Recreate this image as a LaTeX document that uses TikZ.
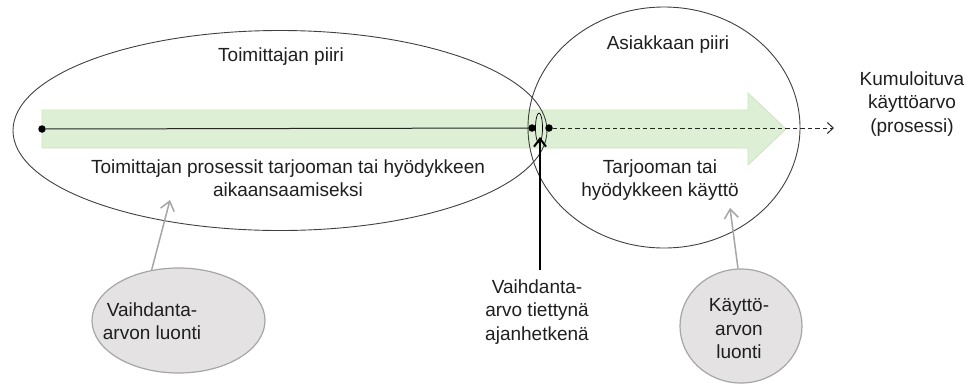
\documentclass[tikz,border=0pt]{standalone}
\usepackage{fontspec}
\setmainfont{Liberation Sans}
\usetikzlibrary{shapes.geometric,arrows.meta,calc}

\definecolor{flowfill}{RGB}{221,239,213}
\definecolor{flowedge}{RGB}{205,229,193}
\definecolor{circleedge}{RGB}{64,64,64}
\definecolor{valuefill}{RGB}{228,226,227}
\definecolor{valueedge}{RGB}{166,166,166}

\tikzset{
  txt/.style={font=\fontsize{19bp}{23.5bp}\selectfont, align=center, inner sep=0pt, text=black!88},
  sphere/.style={ellipse, draw=circleedge, line width=0.9bp, inner sep=0pt},
  valuebubble/.style={ellipse, draw=valueedge, fill=valuefill, line width=1.2bp, inner sep=0pt},
  dot/.style={circle, fill=black, minimum size=7.5bp, inner sep=0pt},
  pointer/.style={draw=valueedge, line width=1.5bp, -{Straight Barb[length=9bp,width=14bp,line width=1.5bp]}},
  marker/.style={draw=black, line width=2bp, -{Straight Barb[length=8bp,width=12bp]}},
  flowline/.style={draw=black!85, line width=1bp},
  cumline/.style={draw=black!85, line width=1bp, dashed, dash pattern=on 4.5bp off 3bp, -{Straight Barb[length=6bp,width=11bp]}}
}

\begin{document}
\begin{tikzpicture}[x=1bp,y=-1bp]
\useasboundingbox (0,0) rectangle (966,386);

% broad green process arrow
\draw[fill=flowfill, draw=flowedge, line width=0.8bp]
  (42,110) -- (748,110) -- (748,93) -- (786,129) -- (748,165) -- (748,148) -- (42,148) -- cycle;

% supplier and customer spheres
\node[sphere, minimum width=534bp, minimum height=200bp] (supplier) at (280,130.5) {};
\node[sphere, minimum width=272bp, minimum height=241bp] (customer) at (664,127.5) {};

\node[txt] (supplierlbl) at (281,57) {Toimittajan piiri};
\node[txt] (customerlbl) at (668,45) {Asiakkaan piiri};
\node[txt] (supplierproc) at (288,178) {Toimittajan prosessit tarjooman tai hyödykkeen\\aikaansaamiseksi};
\node[txt] (customeruse) at (660,180) {Tarjooman tai\\hyödykkeen käyttö};
\node[txt] (cumulative) at (912,104) {Kumuloituva\\käyttöarvo\\(prosessi)};

% process time line
\node[dot] (start) at (42,129) {};
\node[dot] (handover) at (532,128) {};
\node[dot] (usestart) at (549,128) {};
\coordinate (cumend) at (834,128);
\draw[flowline] (start) -- (handover);
\draw[cumline] (usestart) -- (cumend);

% moment of exchange
\draw[black, line width=0.7bp] (539,128) ellipse [x radius=3.5, y radius=15];
\node[txt] (exchange) at (537,312) {Vaihdanta-\\arvo tiettynä\\ajanhetkenä};
\coordinate (exchangetip) at (540,137);
\draw[marker] ($(exchange.north)+(3,-9)$) -- (exchangetip);

% value creation bubbles
\node[valuebubble, minimum width=173bp, minimum height=105bp] (exchcreate) at (178.5,320.5) {};
\node[txt] at (152,321) {Vaihdanta-\\arvon luonti};
\coordinate (exchcreatetip) at (170,200);
\draw[pointer] (exchcreate.118) -- (exchcreatetip);

\node[valuebubble, minimum width=122bp, minimum height=114bp] (usecreate) at (741,326) {};
\node[txt] at (739,329) {Käyttö-\\arvon\\luonti};
\coordinate (usecreatetip) at (730,208);
\draw[pointer] (usecreate.93) -- (usecreatetip);
\end{tikzpicture}
\end{document}
